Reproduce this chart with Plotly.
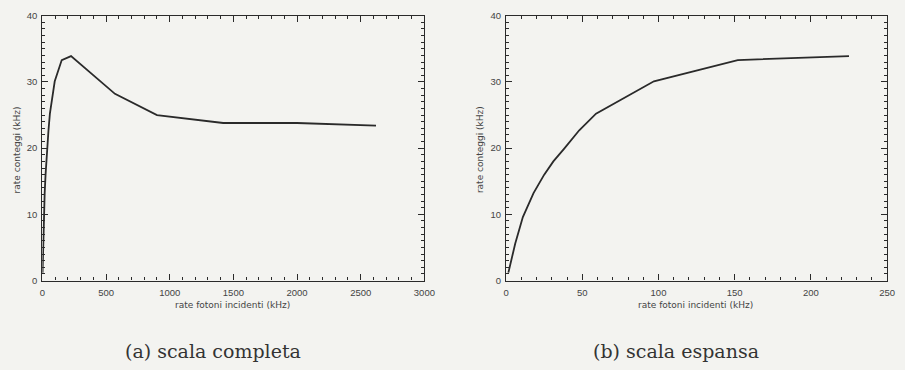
import plotly.graph_objects as go

# Data
rate_incidenti = [1.5, 6, 11, 18, 25, 31, 38, 48, 59, 97, 152, 225, 570, 900, 1420, 2000, 2620]
rate_conteggi = [1.2, 5.6, 9.6, 13.2, 16.0, 18.0, 19.9, 22.7, 25.2, 30.1, 33.3, 33.9, 28.2, 25.0, 23.8, 23.8, 23.4]
zoom_limit = 230  # expanded-scale panel shows only low-rate points

x_zoom = [x for x in rate_incidenti if x <= zoom_limit]
y_zoom = [y for x, y in zip(rate_incidenti, rate_conteggi) if x <= zoom_limit]

y_title = "rate conteggi (kHz)"
x_title = "rate fotoni incidenti (kHz)"
captions = ["(a) scala completa", "(b) scala espansa"]

BG = "#f3f3f0"
INK = "#2a2a2a"
W, H = 905, 370

fig = go.Figure()
fig.add_trace(go.Scatter(x=rate_incidenti, y=rate_conteggi, mode="lines",
                         line=dict(color=INK, width=1.8), xaxis="x", yaxis="y",
                         showlegend=False))
fig.add_trace(go.Scatter(x=x_zoom, y=y_zoom, mode="lines",
                         line=dict(color=INK, width=1.8), xaxis="x2", yaxis="y2",
                         showlegend=False))

def px_x(p):
    return p / W

def px_y(p):
    return 1 - p / H

tickfont = dict(family="Liberation Sans, Arial, sans-serif", size=9.5, color="#444")

def xaxis(domain, rng, dtick, minor, anchor):
    return dict(domain=domain, range=rng, dtick=dtick, tick0=0, anchor=anchor,
                showgrid=False, zeroline=False, showline=True, linecolor=INK, linewidth=1.2,
                mirror="allticks", ticks="inside", ticklen=6, tickwidth=1, tickcolor=INK,
                minor=dict(dtick=minor, ticks="inside", ticklen=3, tickcolor=INK, tickwidth=1, showgrid=False),
                tickfont=tickfont, ticklabelstandoff=3, fixedrange=True)

def yaxis(domain, anchor):
    return dict(domain=domain, range=[0, 40], dtick=10, tick0=0, anchor=anchor,
                showgrid=False, zeroline=False, showline=True, linecolor=INK, linewidth=1.2,
                mirror="allticks", ticks="inside", ticklen=6, tickwidth=1, tickcolor=INK,
                minor=dict(dtick=1, ticks="inside", ticklen=3, tickcolor=INK, tickwidth=1, showgrid=False),
                tickfont=tickfont, ticklabelstandoff=2, fixedrange=True)

ydom = [px_y(283), px_y(10)]
fig.update_layout(
    width=W, height=H,
    margin=dict(l=0, r=0, t=0, b=0),
    paper_bgcolor=BG, plot_bgcolor=BG,
    xaxis=xaxis([px_x(40), px_x(428)], [0, 3000], 500, 100, "y"),
    yaxis=yaxis(ydom, "x"),
    xaxis2=xaxis([px_x(511), px_x(898)], [0, 250], 50, 10, "y2"),
    yaxis2=yaxis(ydom, "x2"),
)

afont = dict(family="DejaVu Sans, Verdana, sans-serif", size=9, color="#444")
cfont = dict(family="DejaVu Serif, Liberation Serif, serif", size=19, color="#333")
ann = []
for xc, yt_x in [(233, 14), (703, 484)]:
    ann.append(dict(x=px_x(xc), y=px_y(302), xref="paper", yref="paper", text=x_title,
                    showarrow=False, font=afont, xanchor="center", yanchor="top",
                    borderpad=0))
    ann.append(dict(x=px_x(yt_x), y=px_y(148), xref="paper", yref="paper", text=y_title,
                    showarrow=False, font=afont, textangle=-90, xanchor="center", yanchor="middle"))
for xc, txt in zip([213, 684], captions):
    ann.append(dict(x=px_x(xc), y=px_y(356), xref="paper", yref="paper", text=txt,
                    showarrow=False, font=cfont, xanchor="center", yanchor="middle"))
fig.update_layout(annotations=ann)

fig.write_html("out.html")
